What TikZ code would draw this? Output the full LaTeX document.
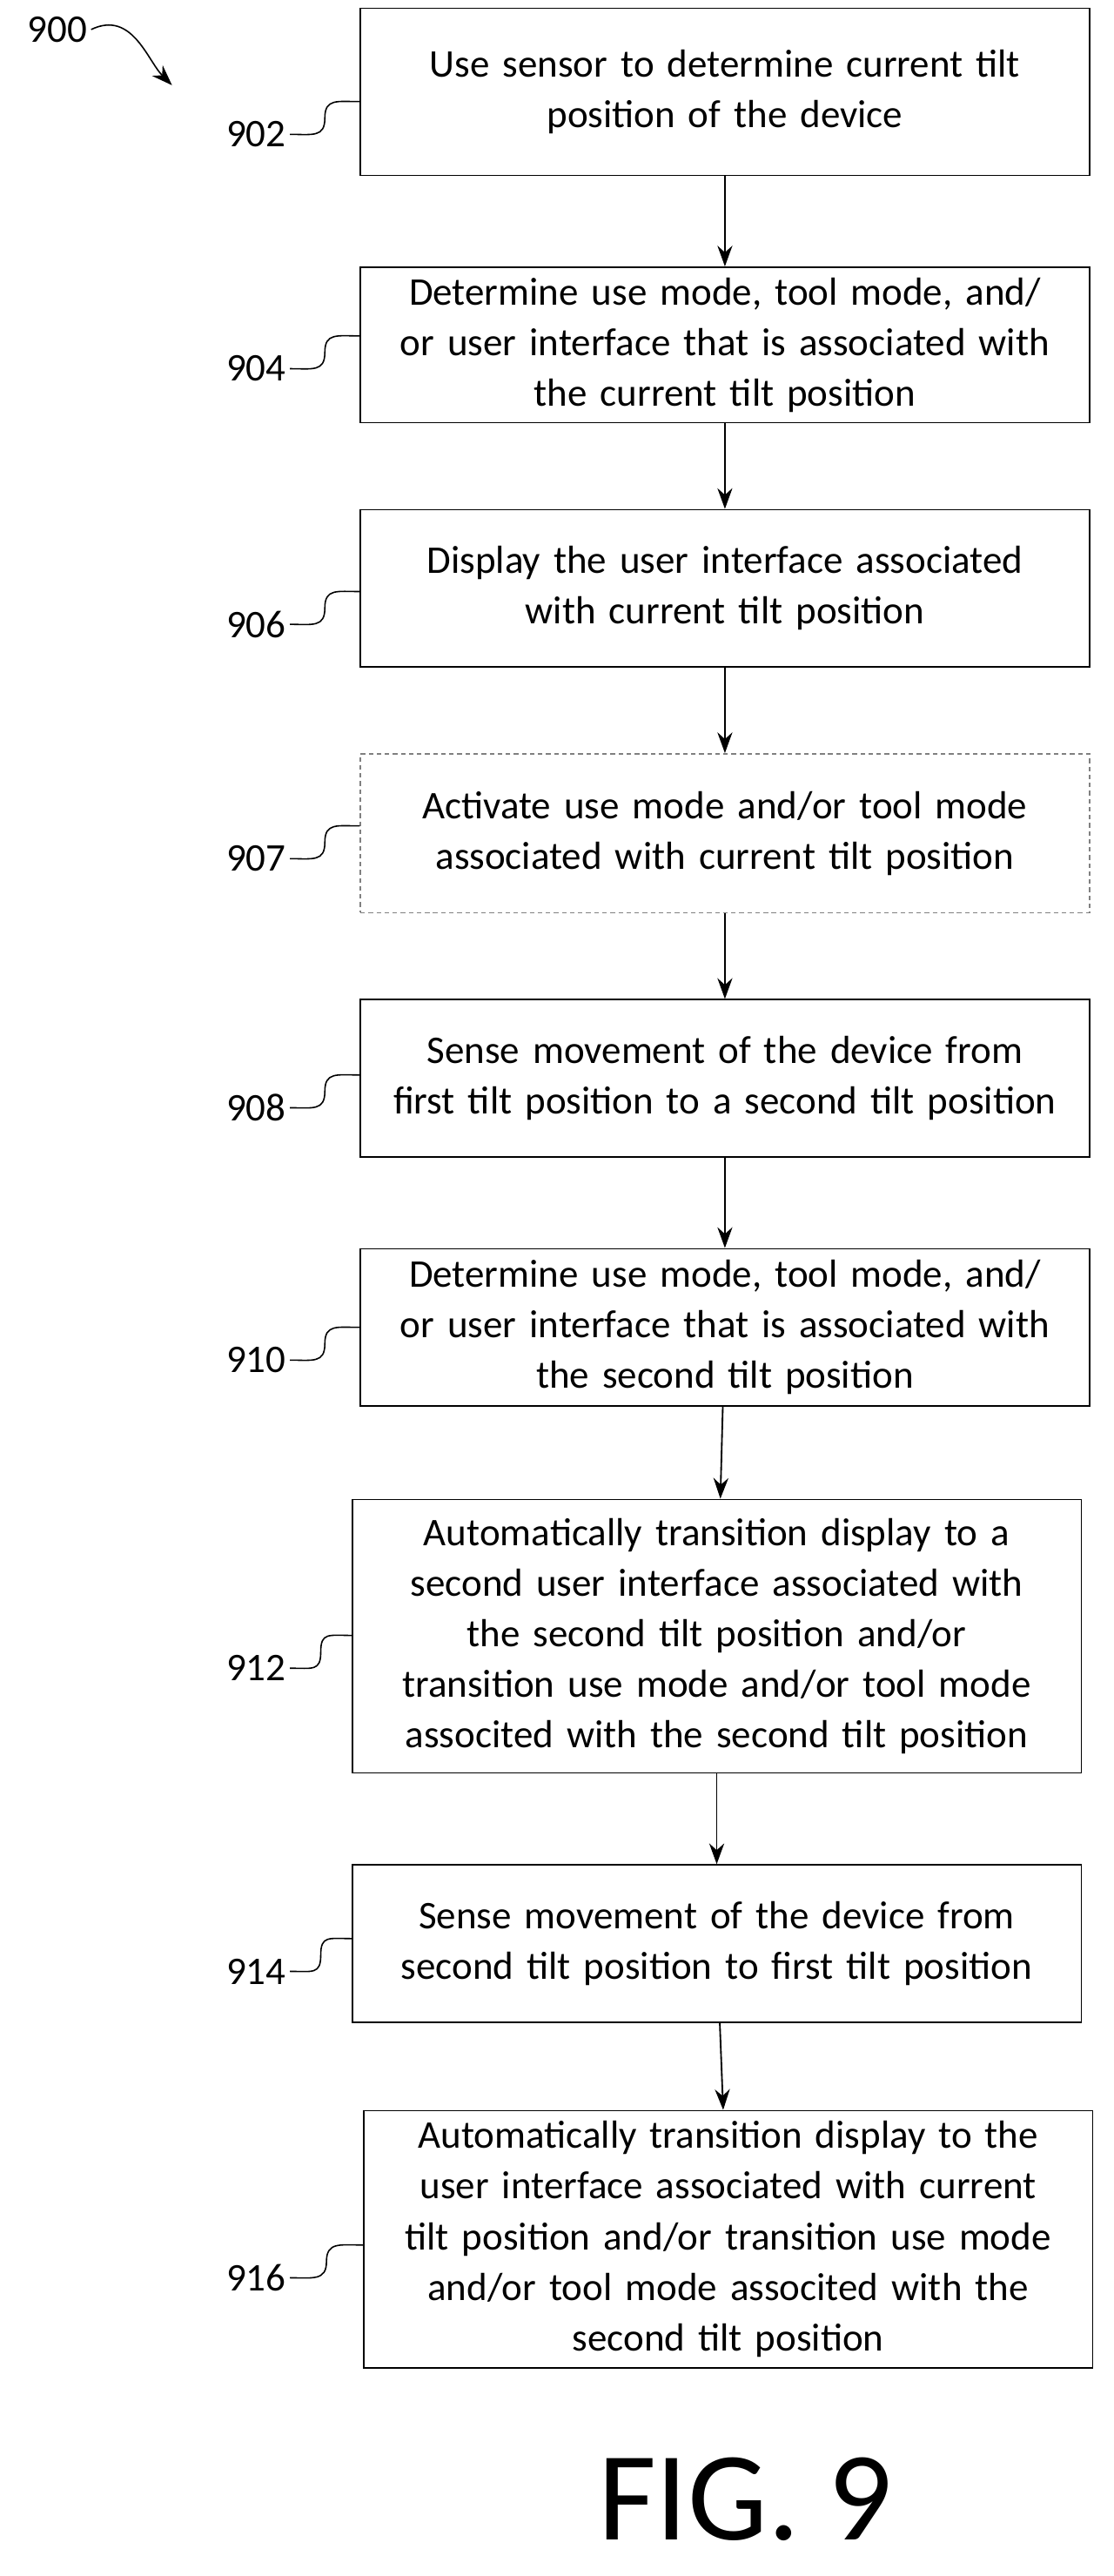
\documentclass[tikz,border=0pt]{standalone}
\usepackage{fontspec}
\setmainfont{Carlito}
\usetikzlibrary{arrows.meta,calc}
\tikzset{
  block/.style={draw, line width=1.2pt, align=center, inner sep=0pt,
    minimum width=22.25cm, text width=21cm, font=\fontsize{34}{44}\selectfont},
  ref/.style={font=\fontsize{34}{44}\selectfont, anchor=east},
  flow/.style={-{Stealth[length=18pt,width=13pt]}, line width=1.4pt},
  lead/.style={line width=1.2pt}
}
\begin{document}
\begin{tikzpicture}[x=0.05cm, y=-0.05cm]
  \useasboundingbox (0,0) rectangle (680,1572);

  \node[block, minimum height=5.1cm] (s902) at (442.5,56) {Use sensor to determine current tilt\\position of the device};
  \node[block, minimum height=4.75cm] (s904) at (442.5,210.5) {Determine use mode, tool mode, and/\\or user interface that is associated with\\the current tilt position};
  \node[block, minimum height=4.8cm] (s906) at (442.5,359) {Display the user interface associated\\with current tilt position};
  \node[block, draw=gray, dash pattern=on 4pt off 3pt, minimum height=4.85cm] (s907) at (442.5,508.5) {Activate use mode and/or tool mode\\associated with current tilt position};
  \node[block, minimum height=4.8cm] (s908) at (442.5,658) {Sense movement of the device from\\first tilt position to a second tilt position};
  \node[block, minimum height=4.8cm] (s910) at (442.5,810) {Determine use mode, tool mode, and/\\or user interface that is associated with\\the second tilt position};
  \node[block, minimum height=8.35cm] (s912) at (437.5,998.5) {Automatically transition display to a\\second user interface associated with\\the second tilt position and/or\\transition use mode and/or tool mode\\associted with the second tilt position};
  \node[block, minimum height=4.8cm] (s914) at (437.5,1186) {Sense movement of the device from\\second tilt position to first tilt position};
  \node[block, minimum height=7.85cm] (s916) at (444.5,1366.5) {Automatically transition display to the\\user interface associated with current\\tilt position and/or transition use mode\\and/or tool mode associted with the\\second tilt position};

  % connectors
  \draw[flow] (s902) -- (s904);
  \draw[flow] (s904) -- (s906);
  \draw[flow] (s906) -- (s907);
  \draw[flow] (s907) -- (s908);
  \draw[flow] (s908) -- (s910);
  \draw[flow] (s910) -- (s912);
  \draw[flow] (s912) -- (s914);
  \draw[flow] (s914) -- (s916);

  % reference numerals
  \foreach \name/\lab/\y in {s902/902/82, s904/904/225, s906/906/381, s907/907/524,
      s908/908/676, s910/910/830, s912/912/1018, s914/914/1203, s916/916/1390} {
    \pgfmathsetmacro\yy{\y-20}
    \node[ref] (r\lab) at (177,\y) {\lab};
    \coordinate (e\lab) at (\name.west |- 0,\yy);
    \draw[lead] (r\lab.east) .. controls +(14,0) and +(0,12) .. ($(r\lab.east)!0.5!(e\lab)$)
      .. controls +(0,-12) and +(-14,0) .. (e\lab);
  }

  \node[font=\fontsize{34}{44}\selectfont] (r900) at (35,18) {900};
  \coordinate (a900) at (105,52);
  \draw[flow, line width=1.2pt] (r900.east) .. controls +(25,-12) and +(-15,-15) .. (a900);

  \node[font=\fontsize{110}{120}\selectfont] (fig) at (455,1525) {FIG. 9};
\end{tikzpicture}
\end{document}
